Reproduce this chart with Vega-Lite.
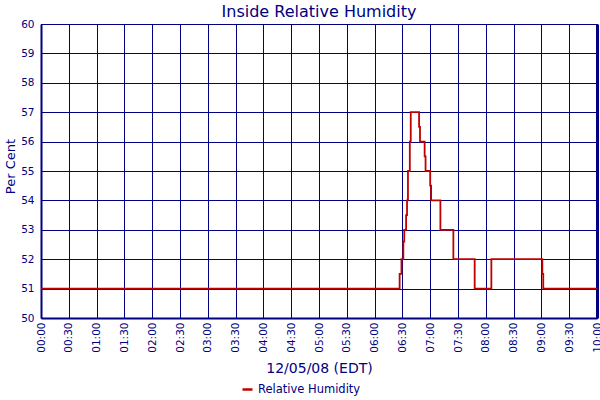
{
  "$schema": "https://vega.github.io/schema/vega-lite/v6.json",
  "autosize": {"type": "none"},
  "padding": {"left": 41, "top": 24, "right": 3, "bottom": 82},
  "width": 556,
  "height": 294,
  "background": "white",
  "config": {
    "font": "DejaVu Sans",
    "view": {"stroke": "#000080", "strokeWidth": 1},
    "axis": {
      "labelColor": "#000080",
      "titleColor": "#000080",
      "titleFontWeight": "normal",
      "gridColor": "#000080",
      "gridOpacity": 1,
      "gridWidth": 1,
      "domainColor": "#000080",
      "ticks": false
    }
  },
  "title": {
    "text": "Inside Relative Humidity",
    "color": "#000080",
    "fontSize": 16,
    "fontWeight": "normal",
    "anchor": "middle",
    "offset": -1
  },
  "data": {
    "values": [
      {"time": "2008-12-05T00:00:00", "rh": 51, "series": "Relative Humidity"},
      {"time": "2008-12-05T06:27:00", "rh": 51.5, "series": "Relative Humidity"},
      {"time": "2008-12-05T06:29:00", "rh": 52, "series": "Relative Humidity"},
      {"time": "2008-12-05T06:31:00", "rh": 52.6, "series": "Relative Humidity"},
      {"time": "2008-12-05T06:32:00", "rh": 53, "series": "Relative Humidity"},
      {"time": "2008-12-05T06:34:00", "rh": 53.5, "series": "Relative Humidity"},
      {"time": "2008-12-05T06:35:00", "rh": 54, "series": "Relative Humidity"},
      {"time": "2008-12-05T06:36:00", "rh": 55, "series": "Relative Humidity"},
      {"time": "2008-12-05T06:38:00", "rh": 56, "series": "Relative Humidity"},
      {"time": "2008-12-05T06:39:00", "rh": 57, "series": "Relative Humidity"},
      {"time": "2008-12-05T06:48:00", "rh": 56.5, "series": "Relative Humidity"},
      {"time": "2008-12-05T06:49:00", "rh": 56, "series": "Relative Humidity"},
      {"time": "2008-12-05T06:54:00", "rh": 55.5, "series": "Relative Humidity"},
      {"time": "2008-12-05T06:55:00", "rh": 55, "series": "Relative Humidity"},
      {"time": "2008-12-05T07:00:00", "rh": 54.5, "series": "Relative Humidity"},
      {"time": "2008-12-05T07:01:00", "rh": 54, "series": "Relative Humidity"},
      {"time": "2008-12-05T07:11:00", "rh": 53, "series": "Relative Humidity"},
      {"time": "2008-12-05T07:25:00", "rh": 52, "series": "Relative Humidity"},
      {"time": "2008-12-05T07:48:00", "rh": 51, "series": "Relative Humidity"},
      {"time": "2008-12-05T08:06:00", "rh": 52, "series": "Relative Humidity"},
      {"time": "2008-12-05T09:01:00", "rh": 51.5, "series": "Relative Humidity"},
      {"time": "2008-12-05T09:02:00", "rh": 51, "series": "Relative Humidity"},
      {"time": "2008-12-05T10:00:00", "rh": 51, "series": "Relative Humidity"}
    ]
  },
  "encoding": {
    "x": {
      "field": "time",
      "type": "temporal",
      "scale": {"nice": false},
      "axis": {
        "title": "12/05/08 (EDT)",
        "titleFontSize": 14,
        "titleY": 43,
        "format": "%H:%M",
        "values": [
          {"year": 2008, "month": 12, "date": 5, "hours": 0, "minutes": 0},
          {"year": 2008, "month": 12, "date": 5, "hours": 0, "minutes": 30},
          {"year": 2008, "month": 12, "date": 5, "hours": 1, "minutes": 0},
          {"year": 2008, "month": 12, "date": 5, "hours": 1, "minutes": 30},
          {"year": 2008, "month": 12, "date": 5, "hours": 2, "minutes": 0},
          {"year": 2008, "month": 12, "date": 5, "hours": 2, "minutes": 30},
          {"year": 2008, "month": 12, "date": 5, "hours": 3, "minutes": 0},
          {"year": 2008, "month": 12, "date": 5, "hours": 3, "minutes": 30},
          {"year": 2008, "month": 12, "date": 5, "hours": 4, "minutes": 0},
          {"year": 2008, "month": 12, "date": 5, "hours": 4, "minutes": 30},
          {"year": 2008, "month": 12, "date": 5, "hours": 5, "minutes": 0},
          {"year": 2008, "month": 12, "date": 5, "hours": 5, "minutes": 30},
          {"year": 2008, "month": 12, "date": 5, "hours": 6, "minutes": 0},
          {"year": 2008, "month": 12, "date": 5, "hours": 6, "minutes": 30},
          {"year": 2008, "month": 12, "date": 5, "hours": 7, "minutes": 0},
          {"year": 2008, "month": 12, "date": 5, "hours": 7, "minutes": 30},
          {"year": 2008, "month": 12, "date": 5, "hours": 8, "minutes": 0},
          {"year": 2008, "month": 12, "date": 5, "hours": 8, "minutes": 30},
          {"year": 2008, "month": 12, "date": 5, "hours": 9, "minutes": 0},
          {"year": 2008, "month": 12, "date": 5, "hours": 9, "minutes": 30},
          {"year": 2008, "month": 12, "date": 5, "hours": 10, "minutes": 0}
        ],
        "labelAngle": 270,
        "labelFontSize": 10.5,
        "labelPadding": 4,
        "labelOverlap": false,
        "labelFlush": false,
        "domainWidth": 2
      }
    },
    "y": {
      "field": "rh",
      "type": "quantitative",
      "scale": {"domain": [50, 60], "nice": false, "zero": false}
    }
  },
  "layer": [
    {
      "mark": {"type": "line", "interpolate": "step-after", "strokeWidth": 1.8},
      "encoding": {
        "y": {
          "field": "rh",
          "type": "quantitative",
          "axis": {
            "title": "Per Cent",
            "titleFontSize": 13,
            "titleX": -24,
            "titleY": 142,
            "values": [50, 51, 52, 53, 54, 55, 56, 57, 58, 59, 60],
            "labelFontSize": 10.5,
            "labelPadding": 7,
            "domainWidth": 2
          }
        },
        "color": {
          "field": "series",
          "type": "nominal",
          "scale": {"range": ["#c00000"]},
          "legend": {
            "title": null,
            "orient": "none",
            "legendX": 200,
            "legendY": 359,
            "symbolType": "stroke",
            "symbolStrokeWidth": 2.5,
            "labelFontSize": 11.5,
            "labelColor": "#000080"
          }
        }
      }
    },
    {
      "mark": {"type": "line", "opacity": 0},
      "encoding": {
        "y": {
          "field": "rh",
          "type": "quantitative",
          "axis": {
            "orient": "right",
            "title": null,
            "labels": false,
            "grid": false,
            "domainWidth": 3,
            "values": [50, 60]
          }
        }
      }
    }
  ],
  "resolve": {"axis": {"y": "independent"}}
}
